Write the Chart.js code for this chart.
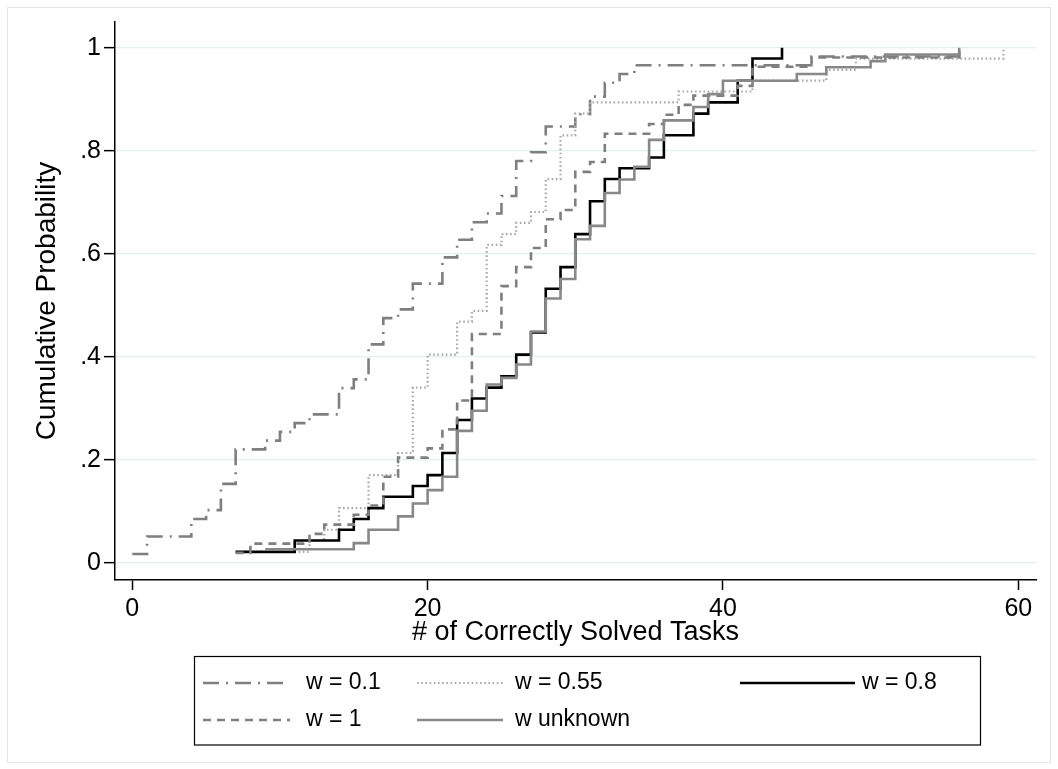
<!DOCTYPE html>
<html>
<head>
<meta charset="utf-8">
<script src="https://cdn.jsdelivr.net/npm/chart.js@4.4.1/dist/chart.umd.min.js"></script>
<style>
  html, body { margin: 0; padding: 0; background: #fff; }
  #wrap { position: relative; width: 1058px; height: 769px; }
  canvas { display: block; }
</style>
</head>
<body>
<div id="wrap"><canvas id="c" width="1058" height="769" style="width:1058px;height:769px"></canvas></div>
<script>
// ---- data ----
const xTicks = [0, 20, 40, 60];
const yTicks = [0, 0.2, 0.4, 0.6, 0.8, 1];
const yTickLabels = ['0', '.2', '.4', '.6', '.8', '1'];
const seriesLabels = ['w = 0.1', 'w = 0.55', 'w = 0.8', 'w = 1', 'w unknown'];

const w01X = [0, 1, 4, 5, 6, 7, 9, 10, 11, 12, 14, 15, 16, 17, 18, 19, 21, 22, 23, 24, 25, 26, 27, 28, 30, 31, 32, 33, 34, 46, 56];
const w01Y = [0.017, 0.051, 0.085, 0.102, 0.153, 0.220, 0.237, 0.254, 0.271, 0.288, 0.339, 0.356, 0.424, 0.475, 0.492, 0.542, 0.593, 0.627, 0.661, 0.678, 0.712, 0.780, 0.797, 0.847, 0.871, 0.905, 0.932, 0.949, 0.966, 0.983, 1.0];

const w055X = [7, 12, 13, 14, 16, 18, 19, 20, 22, 23, 24, 25, 26, 27, 28, 29, 30, 31, 37, 42, 47, 49, 59];
const w055Y = [0.021, 0.043, 0.064, 0.106, 0.170, 0.213, 0.340, 0.404, 0.468, 0.489, 0.617, 0.638, 0.660, 0.681, 0.745, 0.830, 0.872, 0.894, 0.915, 0.936, 0.957, 0.979, 1.0];

const w08X = [7, 11, 14, 15, 16, 17, 19, 20, 21, 22, 23, 24, 25, 26, 27, 28, 29, 30, 31, 32, 33, 35, 36, 38, 39, 41, 42, 44];
const w08Y = [0.021, 0.043, 0.064, 0.085, 0.106, 0.128, 0.149, 0.170, 0.213, 0.277, 0.319, 0.340, 0.362, 0.404, 0.447, 0.532, 0.574, 0.638, 0.702, 0.745, 0.766, 0.787, 0.830, 0.872, 0.894, 0.936, 0.979, 1.0];

const w1X = [7, 8, 12, 13, 15, 16, 17, 18, 20, 21, 22, 23, 25, 26, 27, 28, 29, 30, 31, 32, 35, 36, 37, 38, 41, 42, 46, 56];
const w1Y = [0.019, 0.037, 0.056, 0.074, 0.093, 0.111, 0.167, 0.204, 0.222, 0.259, 0.315, 0.444, 0.537, 0.574, 0.611, 0.667, 0.685, 0.759, 0.778, 0.833, 0.852, 0.870, 0.889, 0.907, 0.926, 0.963, 0.981, 1.0];

const wuX = [9, 15, 16, 18, 19, 20, 21, 22, 23, 24, 25, 26, 27, 28, 29, 30, 31, 32, 33, 34, 35, 36, 38, 39, 40, 45, 47, 50, 51, 56];
const wuY = [0.026, 0.038, 0.064, 0.090, 0.115, 0.141, 0.167, 0.256, 0.295, 0.346, 0.359, 0.385, 0.449, 0.513, 0.551, 0.628, 0.654, 0.718, 0.744, 0.769, 0.821, 0.859, 0.885, 0.910, 0.936, 0.949, 0.962, 0.974, 0.987, 1.0];

// ---- build ----
const pts = (xs, ys) => xs.map((x, i) => ({ x: x, y: ys[i] }));
const FONT = "'Liberation Sans', Arial, Helvetica, sans-serif";

const styles = [
  { color: '#7f7f7f', width: 2.6, dash: [16, 7, 2, 7] },
  { color: '#a8a8a8', width: 2.2, dash: [1.6, 2.6] },
  { color: '#000000', width: 2.6, dash: [] },
  { color: '#7f7f7f', width: 2.6, dash: [8, 6] },
  { color: '#888888', width: 2.6, dash: [] }
];
const allData = [pts(w01X, w01Y), pts(w055X, w055Y), pts(w08X, w08Y), pts(w1X, w1Y), pts(wuX, wuY)];

const datasets = allData.map((d, i) => ({
  label: seriesLabels[i],
  data: d,
  stepped: 'before',
  borderColor: styles[i].color,
  borderWidth: styles[i].width,
  borderDash: styles[i].dash,
  borderCapStyle: 'butt',
  borderJoinStyle: 'miter',
  pointRadius: 0,
  fill: false,
  order: 4 - i
}));

const legendPlugin = {
  id: 'stataLegend',
  afterDraw(chart) {
    const ctx = chart.ctx;
    ctx.save();
    // outer faint frame
    ctx.strokeStyle = '#e6e6e6';
    ctx.lineWidth = 1;
    ctx.strokeRect(7.5, 7.5, 1043, 755);
    // legend box
    ctx.strokeStyle = '#000';
    ctx.lineWidth = 1.2;
    ctx.strokeRect(194.5, 656.5, 786, 88.5);
    const items = [
      { i: 0, x0: 203, x1: 290, tx: 306, y: 683 },
      { i: 1, x0: 417, x1: 503, tx: 515, y: 683 },
      { i: 2, x0: 740, x1: 855, tx: 862, y: 683 },
      { i: 3, x0: 203, x1: 290, tx: 306, y: 720 },
      { i: 4, x0: 417, x1: 503, tx: 515, y: 720 }
    ];
    items.forEach(it => {
      const ds = chart.data.datasets[it.i];
      ctx.beginPath();
      ctx.setLineDash(ds.borderDash);
      ctx.strokeStyle = ds.borderColor;
      ctx.lineWidth = ds.borderWidth;
      ctx.lineCap = 'butt';
      ctx.moveTo(it.x0, it.y);
      ctx.lineTo(it.x1, it.y);
      ctx.stroke();
      ctx.setLineDash([]);
      ctx.fillStyle = '#000';
      ctx.font = '23px ' + FONT;
      ctx.textBaseline = 'middle';
      ctx.textAlign = 'left';
      ctx.fillText(ds.label, it.tx, it.y);
    });
    ctx.restore();
  }
};

new Chart(document.getElementById('c'), {
  type: 'line',
  data: { datasets: datasets },
  plugins: [legendPlugin],
  options: {
    responsive: false,
    animation: false,
    devicePixelRatio: 1,
    layout: { padding: { left: 0, right: 22, top: 22, bottom: 114 } },
    plugins: { legend: { display: false }, tooltip: { enabled: false } },
    elements: { point: { radius: 0 }, line: { tension: 0 } },
    scales: {
      x: {
        type: 'linear',
        min: -1.17,
        max: 61.2,
        afterBuildTicks: s => { s.ticks = xTicks.map(v => ({ value: v })); },
        afterFit: s => { s.height = 75; },
        ticks: {
          autoSkip: false, maxRotation: 0, color: '#000', padding: 4,
          font: { family: FONT, size: 25 },
          callback: v => String(v)
        },
        grid: { drawOnChartArea: false, drawTicks: true, tickLength: 10, tickColor: '#000', tickWidth: 1.5 },
        border: { display: true, color: '#000', width: 1.5 },
        title: {
          display: true, text: '# of Correctly Solved Tasks', color: '#000',
          font: { family: FONT, size: 27 }, padding: { top: 0, bottom: 6 }
        }
      },
      y: {
        type: 'linear',
        min: -0.0336,
        max: 1.05,
        afterBuildTicks: s => { s.ticks = yTicks.map(v => ({ value: v })); },
        afterFit: s => { s.width = 115; },
        ticks: {
          autoSkip: false, color: '#000', padding: 3,
          font: { family: FONT, size: 25 },
          callback: v => yTickLabels[yTicks.indexOf(v)]
        },
        grid: { color: '#e6eef0', lineWidth: 1.3, drawTicks: true, tickLength: 11, tickColor: '#000', tickWidth: 1.5 },
        border: { display: true, color: '#000', width: 1.5 },
        title: {
          display: true, text: 'Cumulative Probability', color: '#000',
          font: { family: FONT, size: 28 }, padding: { top: 30, bottom: 0 }
        }
      }
    }
  }
});
</script>
</body>
</html>
